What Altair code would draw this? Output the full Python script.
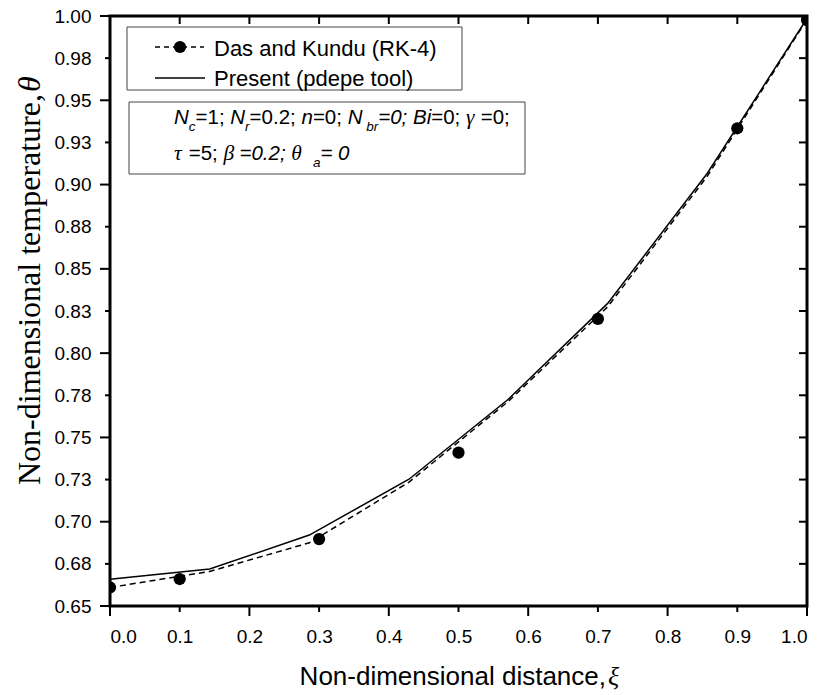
import altair as alt
import pandas as pd

# ---------------- data ----------------
xi_rk = [0.0, 0.1, 0.3, 0.5, 0.7, 0.9, 1.0]
theta_rk = [0.661, 0.666, 0.6897, 0.741, 0.8203, 0.9334, 0.9976]

xi_curve = [0.0, 0.143, 0.286, 0.429, 0.571, 0.714, 0.857, 1.0]
theta_rk_curve = [0.661, 0.6705, 0.6875, 0.7235, 0.7712, 0.8275, 0.905, 0.998]
theta_pdepe = [0.6658, 0.6719, 0.6921, 0.7252, 0.7725, 0.8295, 0.9067, 0.9985]

x_ticks = [0.0, 0.1, 0.2, 0.3, 0.4, 0.5, 0.6, 0.7, 0.8, 0.9, 1.0]
x_major = [0.0, 0.2, 0.4, 0.6, 0.8, 1.0]
x_minor = [0.1, 0.3, 0.5, 0.7, 0.9]
y_ticks = [0.65, 0.675, 0.70, 0.725, 0.75, 0.775, 0.80, 0.825, 0.85,
           0.875, 0.90, 0.925, 0.95, 0.975, 1.00]
y_major = [0.65, 0.70, 0.75, 0.80, 0.85, 0.90, 0.95, 1.00]
y_minor = [0.675, 0.725, 0.775, 0.825, 0.875, 0.925, 0.975]

legend_labels = ["Das and Kundu (RK-4)", "Present (pdepe tool)"]
x_title = "Non-dimensional distance,"
y_title = "Non-dimensional temperature,"

# ---------------- layout ----------------
PL, PT = 110, 16
W, H = 697, 590
PR, PB = 824 - PL - W, 695 - PT - H

SANS = "Liberation Sans"
SERIF = "Liberation Serif"

xs = alt.Scale(domain=[0, 1], nice=False, zero=False)
ys = alt.Scale(domain=[0.65, 1.0], nice=False, zero=False)

x_axis = alt.Axis(values=x_ticks, format=".1f", ticks=False, tickSize=0, domain=False,
                  grid=False, labelFont=SANS, labelFontSize=19, labelColor="black",
                  labelPadding=21, title=None)
y_axis = alt.Axis(values=y_ticks, ticks=False, tickSize=0, domain=False, grid=False,
                  labelExpr="format(round(datum.value*100+0.001)/100, '.2f')",
                  labelFont=SANS, labelFontSize=19, labelColor="black",
                  labelPadding=19, title=None)

df_curve = pd.DataFrame({"xi": xi_curve, "rk": theta_rk_curve, "pd": theta_pdepe})
df_pts = pd.DataFrame({"xi": xi_rk, "th": theta_rk})

X = alt.X("xi:Q", scale=xs, axis=x_axis)

solid = alt.Chart(df_curve).mark_line(color="black", strokeWidth=1.5).encode(
    x=X, y=alt.Y("pd:Q", scale=ys, axis=y_axis))
dashed = alt.Chart(df_curve).mark_line(color="black", strokeWidth=1.5,
                                        strokeDash=[6, 4]).encode(
    x=X, y=alt.Y("rk:Q", scale=ys, axis=y_axis))
points = alt.Chart(df_pts).mark_point(filled=True, color="black", size=150,
                                       opacity=1, clip=True).encode(
    x=X, y=alt.Y("th:Q", scale=ys, axis=y_axis))

# tick marks (manual, so inner/outer and major/minor match)
def xrule(vals, y0, y1):
    return alt.Chart(pd.DataFrame({"xi": vals})).mark_rule(
        color="black", strokeWidth=2).encode(
        x=X, y=alt.value(y0), y2=alt.value(y1))

def yrule(vals, x0, x1):
    return alt.Chart(pd.DataFrame({"v": vals})).mark_rule(
        color="black", strokeWidth=2).encode(
        y=alt.Y("v:Q", scale=ys, axis=y_axis), x=alt.value(x0), x2=alt.value(x1))

ticks = [
    xrule(x_major, H, H + 10), xrule(x_minor, H, H + 6), xrule(x_ticks, 0, 8),
    yrule(y_major, -10, 0), yrule(y_minor, -5, 0), yrule(y_ticks, W - 8, W),
]

one = alt.Data(values=[{}])

def txt(text, xa, ya, font=SANS, size=19, style="normal", align="left",
        baseline="alphabetic", angle=0):
    kw = dict(align=align, baseline=baseline, font=font, fontSize=size,
              fontStyle=style, color="black")
    if angle:
        kw["angle"] = angle
    return alt.Chart(one).mark_text(**kw).encode(
        x=alt.value(xa - PL), y=alt.value(ya - PT), text=alt.value(text))

def box(x0, y0, x1, y1):
    return alt.Chart(one).mark_rect(fill="white", stroke="#444", strokeWidth=1).encode(
        x=alt.value(x0 - PL), x2=alt.value(x1 - PL), y=alt.value(y0 - PT), y2=alt.value(y1 - PT))

annos = []
# legend
annos.append(box(127, 27, 462, 90))
annos.append(alt.Chart(one).mark_rule(color="black", strokeWidth=1.5, strokeDash=[5, 4]).encode(
    x=alt.value(155 - PL), x2=alt.value(204 - PL), y=alt.value(47 - PT)))
annos.append(alt.Chart(one).mark_point(filled=True, color="black", size=150, opacity=1).encode(
    x=alt.value(180 - PL), y=alt.value(47 - PT)))
annos.append(txt(legend_labels[0], 214, 56, size=22))
annos.append(alt.Chart(one).mark_rule(color="black", strokeWidth=1.5).encode(
    x=alt.value(155 - PL), x2=alt.value(205 - PL), y=alt.value(78 - PT)))
annos.append(txt(legend_labels[1], 214, 86, size=22))

# parameter box
annos.append(box(129, 102, 525, 174))

WID = {' ': .278, '=': .584, ';': .278, '.': .278, 'N': .722, 'c': .5, 'r': .333,
       'n': .556, 'b': .556, 'B': .667, 'i': .222, 'a': .556,
       'γ': .44, 'τ': .44, 'β': .5, 'θ': .5}

def width(s):
    return sum(WID.get(ch, .556) for ch in s)

def line(parts, x0, ybase, size=20.5, sub=13.5):
    out = []
    x = x0
    for text, st, lvl in parts:
        fs = sub if lvl == "sub" else size
        font = SERIF if st == "g" else SANS
        style = "normal" if st == "n" else "italic"
        yy = ybase + 7 if lvl == "sub" else ybase
        stripped = text.lstrip(" ")
        lead = width(text) - width(stripped)
        if stripped.strip():
            out.append(txt(stripped.rstrip(" "), x + lead * fs, yy, font=font,
                           size=fs + (1 if st == "g" else 0), style=style))
        x += width(text) * fs
    return out

annos += line([("N", "i", "m"), ("c", "i", "sub"), ("=1; ", "n", "m"),
               ("N", "i", "m"), ("r", "i", "sub"), ("=0.2; ", "n", "m"),
               ("n", "i", "m"), ("=0; ", "n", "m"),
               ("N", "i", "m"), (" br", "i", "sub"), ("=0; ", "i", "m"),
               ("Bi", "i", "m"), ("=0; ", "n", "m"), ("γ", "g", "m"), (" =0;", "n", "m")],
              174, 124)
annos += line([("τ", "g", "m"), (" =5; ", "n", "m"), ("β", "g", "m"), (" =0.2; ", "i", "m"),
               ("θ", "g", "m"), ("  ", "n", "m"), ("a", "i", "sub"), ("= 0", "i", "m")],
              174, 160)

# axis titles
annos.append(txt(x_title, 606, 685, size=26, align="right"))
annos.append(txt("ξ", 608, 685, font=SERIF, size=26, style="italic"))
annos.append(txt(y_title, 40, 94, font=SERIF, size=32, align="right", angle=270))
annos.append(txt("θ", 40, 92, font=SERIF, size=32, style="italic", align="left", angle=270))

chart = alt.layer(dashed, solid, points, *ticks, *annos).properties(
    width=W, height=H,
    padding={"left": PL, "top": PT, "right": PR, "bottom": PB},
    autosize=alt.AutoSizeParams(type="none"),
).configure_view(stroke="black", strokeWidth=3)

chart.save("out.html", embed_options={"renderer": "svg", "actions": False})
